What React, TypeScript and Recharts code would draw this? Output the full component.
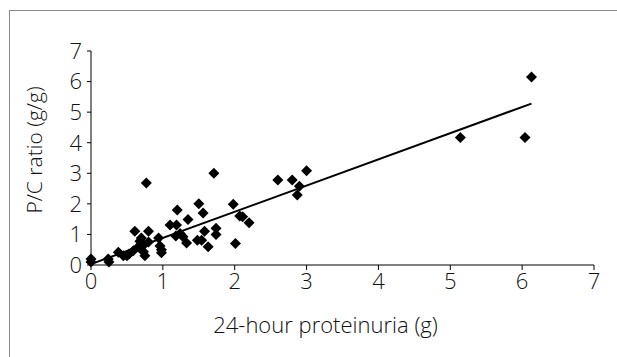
import { ScatterChart, Scatter, XAxis, YAxis, ReferenceLine } from "recharts";

// 24-hour proteinuria (g) and P/C ratio (g/g)
const proteinuria = [
  0, 0, 0.24, 0.25, 0.38, 0.45, 0.5, 0.53, 0.59, 0.61, 0.66, 0.68, 0.7, 0.73, 0.73,
  0.75, 0.77, 0.8, 0.8, 0.94, 0.96, 0.98, 0.98, 1.1, 1.19, 1.2, 1.18, 1.24, 1.28,
  1.33, 1.35, 1.48, 1.54, 1.5, 1.56, 1.58, 1.63, 1.71, 1.74, 1.74, 1.98, 2.01, 2.07,
  2.11, 2.2, 2.6, 2.8, 2.87, 2.9, 3.0, 5.14, 6.04, 6.13,
];
const pcRatio = [
  0.2, 0.1, 0.2, 0.1, 0.42, 0.3, 0.3, 0.36, 0.47, 1.1, 0.6, 0.78, 0.88, 0.65, 0.43,
  0.3, 2.68, 1.1, 0.75, 0.88, 0.62, 0.5, 0.4, 1.31, 1.31, 1.8, 0.95, 1.03, 0.92,
  0.72, 1.49, 0.81, 0.81, 2.0, 1.7, 1.1, 0.6, 3.0, 1.2, 1.0, 1.99, 0.7, 1.6,
  1.58, 1.38, 2.78, 2.78, 2.29, 2.58, 3.08, 4.17, 4.17, 6.15,
];

// linear trend line end points
const trendX = [0, 6.13];
const trendY = [0.03, 5.28];

const xTicks = [0, 1, 2, 3, 4, 5, 6, 7];
const yTicks = [0, 1, 2, 3, 4, 5, 6, 7];

const points = proteinuria.map((x, i) => ({ x, y: pcRatio[i] }));

const FONT = "'Open Sans', sans-serif";

const Diamond = (props: any) => {
  const { cx, cy } = props;
  const r = 5.5;
  return (
    <polygon
      points={`${cx},${cy - r} ${cx + r},${cy} ${cx},${cy + r} ${cx - r},${cy}`}
      fill="#000"
    />
  );
};

export default function App() {
  return (
    <div
      style={{
        position: "absolute",
        left: 0,
        top: 0,
        width: 617,
        height: 357,
        overflow: "hidden",
        background: "#fff",
      }}
    >
      <div
        style={{
          position: "absolute",
          left: 9,
          top: 10,
          width: 640,
          height: 400,
          borderTop: "1.5px solid #888",
          borderLeft: "1.5px solid #888",
        }}
      />
      <div style={{ position: "absolute", left: 0, top: 0 }}>
        <ScatterChart
          width={617}
          height={357}
          margin={{ top: 51, right: 23, bottom: 0, left: 0 }}
          style={{ fontFamily: FONT }}
        >
          <XAxis
            type="number"
            dataKey="x"
            domain={[0, 7]}
            ticks={xTicks}
            interval={0}
            height={92}
            stroke="#000"
            tickSize={5}
            tickMargin={3}
            tick={{ fill: "#111", fontSize: 22, fontFamily: FONT, fontWeight: 300 }}
            label={{
              content: (p: any) => {
                const vb = p.viewBox;
                return (
                  <text
                    x={vb.x + vb.width / 2 - 17}
                    y={vb.y + 68}
                    textAnchor="middle"
                    fontSize={22}
                    fontWeight={300}
                    fontFamily={FONT}
                    fill="#111"
                  >
                    24-hour proteinuria (g)
                  </text>
                );
              },
            }}
          />
          <YAxis
            type="number"
            dataKey="y"
            domain={[0, 7]}
            ticks={yTicks}
            interval={0}
            width={91}
            stroke="#000"
            tickSize={4}
            tickMargin={5}
            tick={{ fill: "#111", fontSize: 22, fontFamily: FONT, fontWeight: 300 }}
            label={{
              content: (p: any) => {
                const vb = p.viewBox;
                const cx = 34;
                const cy = vb.y + vb.height / 2 - 8;
                return (
                  <text
                    x={cx}
                    y={cy}
                    transform={`rotate(-90 ${cx} ${cy})`}
                    textAnchor="middle"
                    dominantBaseline="central"
                    fontSize={21}
                    fontWeight={300}
                    fontFamily={FONT}
                    fill="#111"
                  >
                    P/C ratio (g/g)
                  </text>
                );
              },
            }}
          />
          <ReferenceLine
            segment={[
              { x: trendX[0], y: trendY[0] },
              { x: trendX[1], y: trendY[1] },
            ]}
            stroke="#000"
            strokeWidth={2}
            ifOverflow="visible"
          />
          <Scatter data={points} shape={<Diamond />} isAnimationActive={false} />
        </ScatterChart>
      </div>
    </div>
  );
}
